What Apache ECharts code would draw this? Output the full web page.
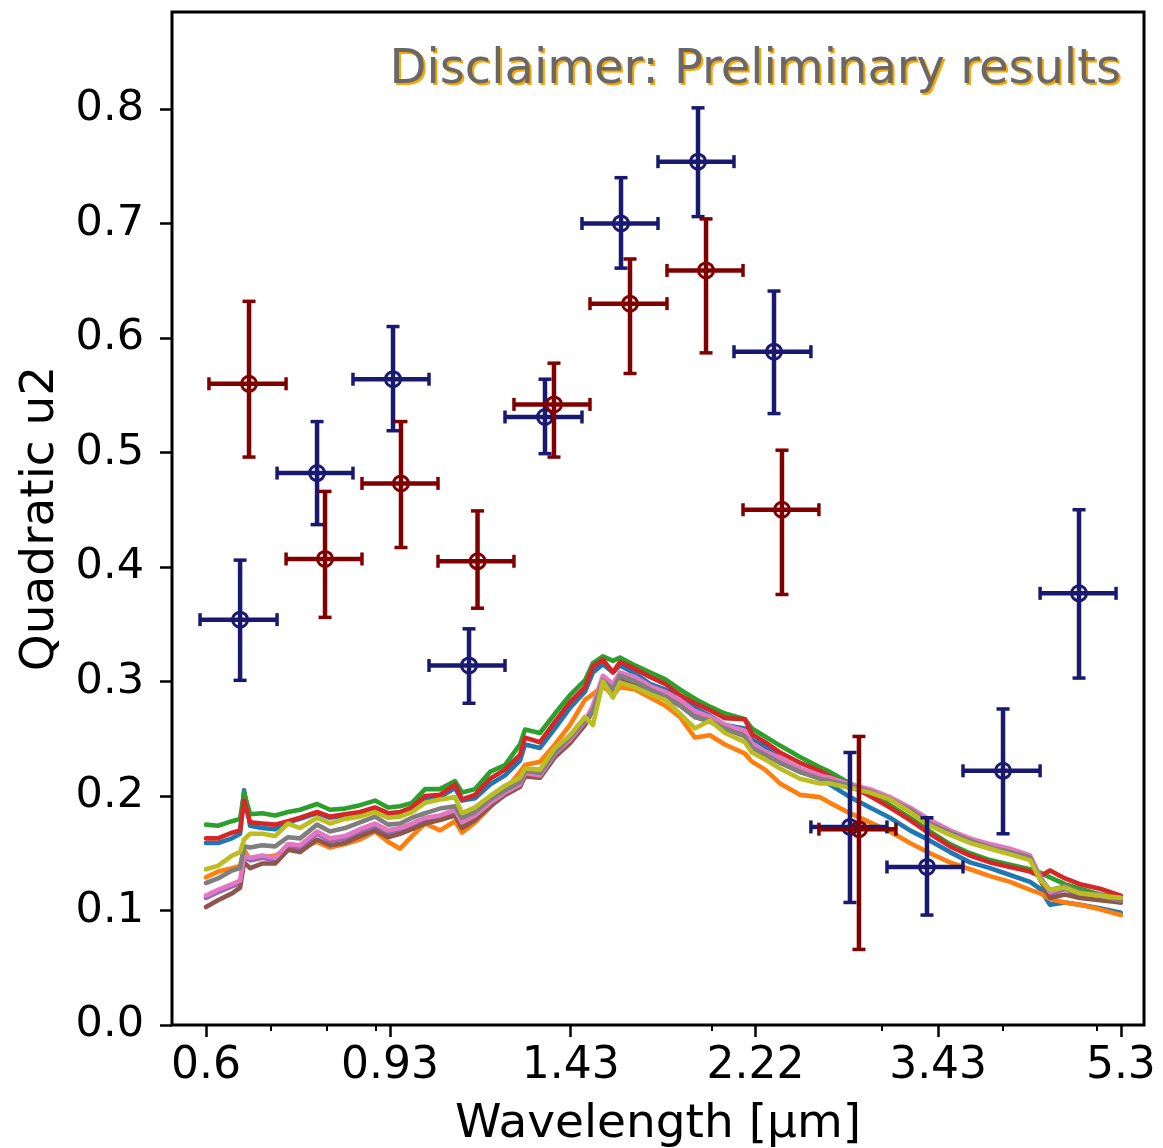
<!DOCTYPE html>
<html><head><meta charset="utf-8">
<script src="https://cdn.jsdelivr.net/npm/echarts@6/dist/echarts.min.js"></script>
<style>html,body{margin:0;padding:0;background:#fff}#c{width:1163px;height:1148px}</style>
</head><body><div id="c"></div>
<script>
// ---- data ----
const wavelength = [0.6000,0.6174,0.6384,0.6508,0.6570,0.6665,0.6858,0.7073,0.7295,0.7507,
0.7817,0.8062,0.8355,0.8659,0.8975,0.9256,0.9524,0.9800,1.0109,1.0476,
1.0857,1.1039,1.1387,1.1800,1.2229,1.2673,1.2826,1.3291,1.3774,1.4274,
1.4792,1.5077,1.5440,1.5813,1.6079,1.6663,1.7269,1.7898,1.8548,1.9222,
1.9921,2.0645,2.1652,2.2015,2.2715,2.3539,2.4686,2.5885,2.6511,2.7805,
2.9160,3.0583,3.2077,3.3643,3.5285,3.7007,3.8815,4.0710,4.2697,4.3726,
4.4771,4.6397,4.8086,5.0431,5.3000];

const modelBlue = [.159,.159,.163,.167,.205,.174,.172,.171,.177,.180,.185,.181,.183,.185,.189,.184,.185,.188,.198,.199,
.207,.196,.198,.210,.218,.231,.245,.242,.259,.277,.291,.308,.315,.308,.314,.307,.298,.293,.286,.277,
.270,.262,.259,.249,.243,.233,.224,.216,.210,.199,.190,.181,.170,.161,.151,.142,.137,.131,.125,.119,
.105,.107,.105,.102,.098];
const modelOrange = [.129,.134,.137,.139,.153,.144,.146,.148,.153,.155,.160,.155,.158,.162,.169,.160,.154,.165,.176,.170,
.178,.168,.177,.190,.205,.221,.227,.230,.245,.262,.284,.289,.296,.288,.295,.293,.286,.279,.269,.251,
.253,.245,.237,.230,.223,.211,.201,.199,.194,.185,.177,.169,.159,.150,.142,.136,.130,.125,.118,.115,
.110,.107,.105,.101,.096];
const modelGreen = [.175,.174,.178,.180,.203,.184,.185,.183,.186,.188,.193,.188,.189,.192,.196,.190,.191,.194,.206,.206,
.213,.203,.206,.221,.227,.245,.258,.255,.272,.288,.301,.316,.322,.318,.321,.314,.308,.302,.293,.285,
.278,.272,.267,.259,.252,.244,.234,.225,.221,.211,.203,.192,.181,.169,.158,.150,.144,.140,.136,.133,
.129,.123,.119,.114,.111];
const modelRed = [.163,.163,.168,.170,.196,.177,.176,.175,.178,.181,.186,.182,.184,.186,.190,.185,.186,.190,.200,.201,
.210,.197,.201,.215,.223,.236,.251,.247,.265,.282,.295,.313,.319,.308,.317,.311,.304,.298,.288,.281,
.275,.268,.267,.254,.247,.238,.229,.222,.217,.209,.200,.190,.179,.167,.156,.148,.142,.138,.134,.130,
.135,.128,.123,.119,.113];
const modelPurple = [.111,.116,.121,.124,.146,.144,.146,.144,.156,.155,.167,.161,.163,.169,.174,.168,.170,.174,.179,.181,
.186,.175,.181,.192,.201,.208,.218,.216,.235,.247,.263,.277,.303,.296,.306,.302,.294,.289,.282,.272,
.267,.260,.255,.244,.237,.231,.222,.216,.214,.208,.204,.197,.188,.177,.168,.161,.156,.152,.146,.128,
.114,.119,.113,.111,.107];
const modelBrown = [.103,.109,.115,.120,.142,.137,.141,.141,.153,.151,.162,.157,.159,.165,.170,.164,.167,.171,.176,.179,
.183,.172,.179,.191,.201,.208,.217,.216,.234,.246,.262,.275,.298,.291,.301,.298,.291,.286,.279,.269,
.265,.258,.253,.243,.236,.230,.221,.216,.213,.208,.203,.197,.187,.176,.168,.161,.155,.151,.146,.127,
.111,.114,.111,.109,.107];
const modelPink = [.113,.118,.123,.126,.148,.146,.148,.146,.158,.157,.169,.163,.165,.171,.176,.170,.172,.176,.181,.183,
.188,.177,.183,.194,.203,.210,.220,.218,.237,.249,.265,.279,.305,.298,.308,.304,.296,.291,.284,.274,
.269,.262,.257,.246,.239,.233,.224,.218,.216,.210,.206,.199,.190,.179,.170,.163,.158,.154,.148,.130,
.116,.121,.115,.113,.109];
const modelGray = [.124,.128,.135,.137,.156,.155,.157,.156,.164,.163,.175,.169,.172,.177,.182,.175,.176,.181,.185,.189,
.191,.181,.186,.197,.205,.212,.222,.220,.238,.251,.266,.274,.301,.293,.305,.300,.293,.287,.279,.269,
.266,.259,.252,.242,.236,.229,.221,.215,.213,.209,.204,.197,.188,.176,.168,.161,.155,.151,.146,.128,
.118,.121,.116,.114,.109];
const modelOlive = [.136,.139,.148,.151,.162,.167,.167,.165,.176,.172,.181,.176,.180,.182,.186,.181,.182,.186,.194,.197,
.199,.185,.190,.200,.209,.216,.224,.223,.242,.253,.269,.262,.300,.286,.299,.295,.289,.284,.272,.259,
.266,.255,.247,.238,.232,.224,.215,.211,.211,.207,.203,.197,.186,.174,.166,.159,.154,.149,.144,.127,
.118,.120,.115,.113,.111];

// error-bar points: centre wavelength, bin low, bin high, u2, u2 low, u2 high
const navyWave   = [0.6508,0.7817,0.9367,1.1225,1.3451,1.6120,1.9364,2.3205,2.7805,3.3402,4.0032,4.7973];
const navyWaveLo = [0.5916,0.7107,0.8515,1.0205,1.2229,1.4689,1.7604,2.1096,2.5336,3.0366,3.6392,4.3726];
const navyWaveHi = [0.7107,0.8515,1.0205,1.2229,1.4689,1.7604,2.1096,2.5336,3.0366,3.6392,4.3726,5.2395];
const navyU2     = [0.354,0.482,0.564,0.314,0.531,0.700,0.754,0.588,0.173,0.138,0.222,0.377];
const navyU2Lo   = [0.301,0.437,0.519,0.281,0.499,0.661,0.706,0.534,0.107,0.096,0.167,0.303];
const navyU2Hi   = [0.406,0.527,0.610,0.346,0.564,0.740,0.801,0.641,0.238,0.181,0.276,0.450];

const redWave   = [0.6648,0.7967,0.9546,1.1455,1.3742,1.6469,1.9737,2.3649,2.8407];
const redWaveLo = [0.6043,0.7261,0.8700,1.0426,1.2493,1.4972,1.7985,2.1554,2.5823];
const redWaveHi = [0.7261,0.8700,1.0426,1.2493,1.4972,1.7985,2.1554,2.5823,3.1024];
const redU2     = [0.560,0.407,0.473,0.405,0.542,0.630,0.659,0.450,0.171];
const redU2Lo   = [0.496,0.356,0.417,0.364,0.496,0.569,0.587,0.376,0.066];
const redU2Hi   = [0.632,0.466,0.527,0.449,0.578,0.669,0.704,0.502,0.252];

const xTickValues = [0.6,0.93,1.43,2.22,3.43,5.3];
const xTickLabels = ['0.6','0.93','1.43','2.22','3.43','5.3'];
const xMinorValues = [0.7,0.8,0.9,2,3,4,5];
const yTickValues = [0,0.1,0.2,0.3,0.4,0.5,0.6,0.7,0.8];

// ---- chart ----
const FONT = 'DejaVu Sans';
const modelSeries = [
  ['C0', modelBlue, '#1f77b4'], ['C1', modelOrange, '#ff7f0e'], ['C2', modelGreen, '#2ca02c'],
  ['C3', modelRed, '#d62728'], ['C4', modelPurple, '#9467bd'], ['C5', modelBrown, '#8c564b'],
  ['C6', modelPink, '#e377c2'], ['C7', modelGray, '#7f7f7f'], ['C8', modelOlive, '#bcbd22']
];

function errRender(color){
  return function(params, api){
    const x = api.value(0), xl = api.value(1), xh = api.value(2);
    const y = api.value(3), yl = api.value(4), yh = api.value(5);
    const c = api.coord([x, y]);
    const l = api.coord([xl, y]);
    const r = api.coord([xh, y]);
    const b = api.coord([x, yl]);
    const t = api.coord([x, yh]);
    const cap = 6.5;
    const st = {stroke: color, lineWidth: 4.5, fill: null};
    const cs = {stroke: color, lineWidth: 3.5, fill: null};
    return {type: 'group', children: [
      {type:'line', shape:{x1:l[0], y1:c[1], x2:r[0], y2:c[1]}, style: st},
      {type:'line', shape:{x1:c[0], y1:b[1], x2:c[0], y2:t[1]}, style: st},
      {type:'line', shape:{x1:l[0], y1:c[1]-cap, x2:l[0], y2:c[1]+cap}, style: cs},
      {type:'line', shape:{x1:r[0], y1:c[1]-cap, x2:r[0], y2:c[1]+cap}, style: cs},
      {type:'line', shape:{x1:c[0]-cap, y1:b[1], x2:c[0]+cap, y2:b[1]}, style: cs},
      {type:'line', shape:{x1:c[0]-cap, y1:t[1], x2:c[0]+cap, y2:t[1]}, style: cs},
      {type:'circle', shape:{cx:c[0], cy:c[1], r:7.5}, style:{stroke: color, lineWidth: 3, fill: 'rgba(0,0,0,0)'}}
    ]};
  };
}

function errData(w, wl, wh, u, ul, uh){
  return w.map((v, i) => [v, wl[i], wh[i], u[i], ul[i], uh[i]]);
}

const series = modelSeries.map(([name, arr, color], k) => ({
  name, type: 'line', xAxisIndex: 0, yAxisIndex: 0,
  data: wavelength.map((w, i) => [w, arr[i]]),
  showSymbol: false, symbol: 'none',
  lineStyle: {width: 4.6, color: color, join: 'round', cap: 'round'}, itemStyle: {color: color},
  z: 2 + k * 0.01, silent: true
}));
series.push({
  type: 'custom', name: 'navy', renderItem: errRender('#191970'),
  data: errData(navyWave, navyWaveLo, navyWaveHi, navyU2, navyU2Lo, navyU2Hi),
  encode: {x: [0,1,2], y: [3,4,5]}, z: 5, clip: false
});
series.push({
  type: 'custom', name: 'maroon', renderItem: errRender('#800000'),
  data: errData(redWave, redWaveLo, redWaveHi, redU2, redU2Lo, redU2Hi),
  encode: {x: [0,1,2], y: [3,4,5]}, z: 6, clip: false
});

const chart = echarts.init(document.getElementById('c'), null, {renderer: 'canvas'});
const XMIN = 0.5534, XMAX = 5.600;
chart.setOption({
  animation: false,
  backgroundColor: '#ffffff',
  grid: {left: 172, right: 19, top: 12, bottom: 123, show: true, borderColor: '#000', borderWidth: 3,
    backgroundColor: 'transparent', containLabel: false, outerBoundsMode: 'none'},
  xAxis: [{
    type: 'log', logBase: 10, min: XMIN, max: XMAX, position: 'bottom',
    name: 'Wavelength [µm]', nameLocation: 'middle', nameGap: 76,
    nameTextStyle: {fontFamily: FONT, fontSize: 47, color: '#000'},
    axisLine: {show: false}, splitLine: {show: false}, minorTick: {show: false},
    axisTick: {show: true, length: 12, lineStyle: {width: 2.5, color: '#000'}, customValues: xTickValues},
    axisLabel: {show: true, customValues: xTickValues, fontFamily: FONT, fontSize: 44, color: '#000', margin: 20,
      formatter: function(v){ let best = 0; xTickValues.forEach((t, i) => { if (Math.abs(t - v) < Math.abs(xTickValues[best] - v)) best = i; }); return xTickLabels[best]; }}
  }, {
    type: 'log', logBase: 10, min: XMIN, max: XMAX, position: 'bottom', gridIndex: 0,
    axisLine: {show: false}, splitLine: {show: false}, axisLabel: {show: false},
    axisTick: {show: true, length: 6, lineStyle: {width: 2, color: '#000'}, customValues: xMinorValues}
  }],
  yAxis: {
    type: 'value', min: 0, max: 0.8847,
    name: 'Quadratic u2', nameLocation: 'middle', nameGap: 106,
    nameTextStyle: {fontFamily: FONT, fontSize: 47, color: '#000'},
    axisLine: {show: false}, splitLine: {show: false},
    axisTick: {show: true, length: 12, lineStyle: {width: 2.5, color: '#000'}, customValues: yTickValues},
    axisLabel: {show: true, customValues: yTickValues, fontFamily: FONT, fontSize: 43, color: '#000', margin: 28,
      formatter: v => v.toFixed(1)}
  },
  series: series,
  graphic: [
    {type: 'text', x: 1123, y: 73, z: 100, style: {text: 'Disclaimer: Preliminary results', fill: '#ffa500', font: '48px "DejaVu Sans"', align: 'right', verticalAlign: 'middle'}},
    {type: 'text', x: 1121, y: 71, z: 101, style: {text: 'Disclaimer: Preliminary results', fill: '#686868', font: '48px "DejaVu Sans"', align: 'right', verticalAlign: 'middle'}}
  ]
});
</script>
</body></html>
